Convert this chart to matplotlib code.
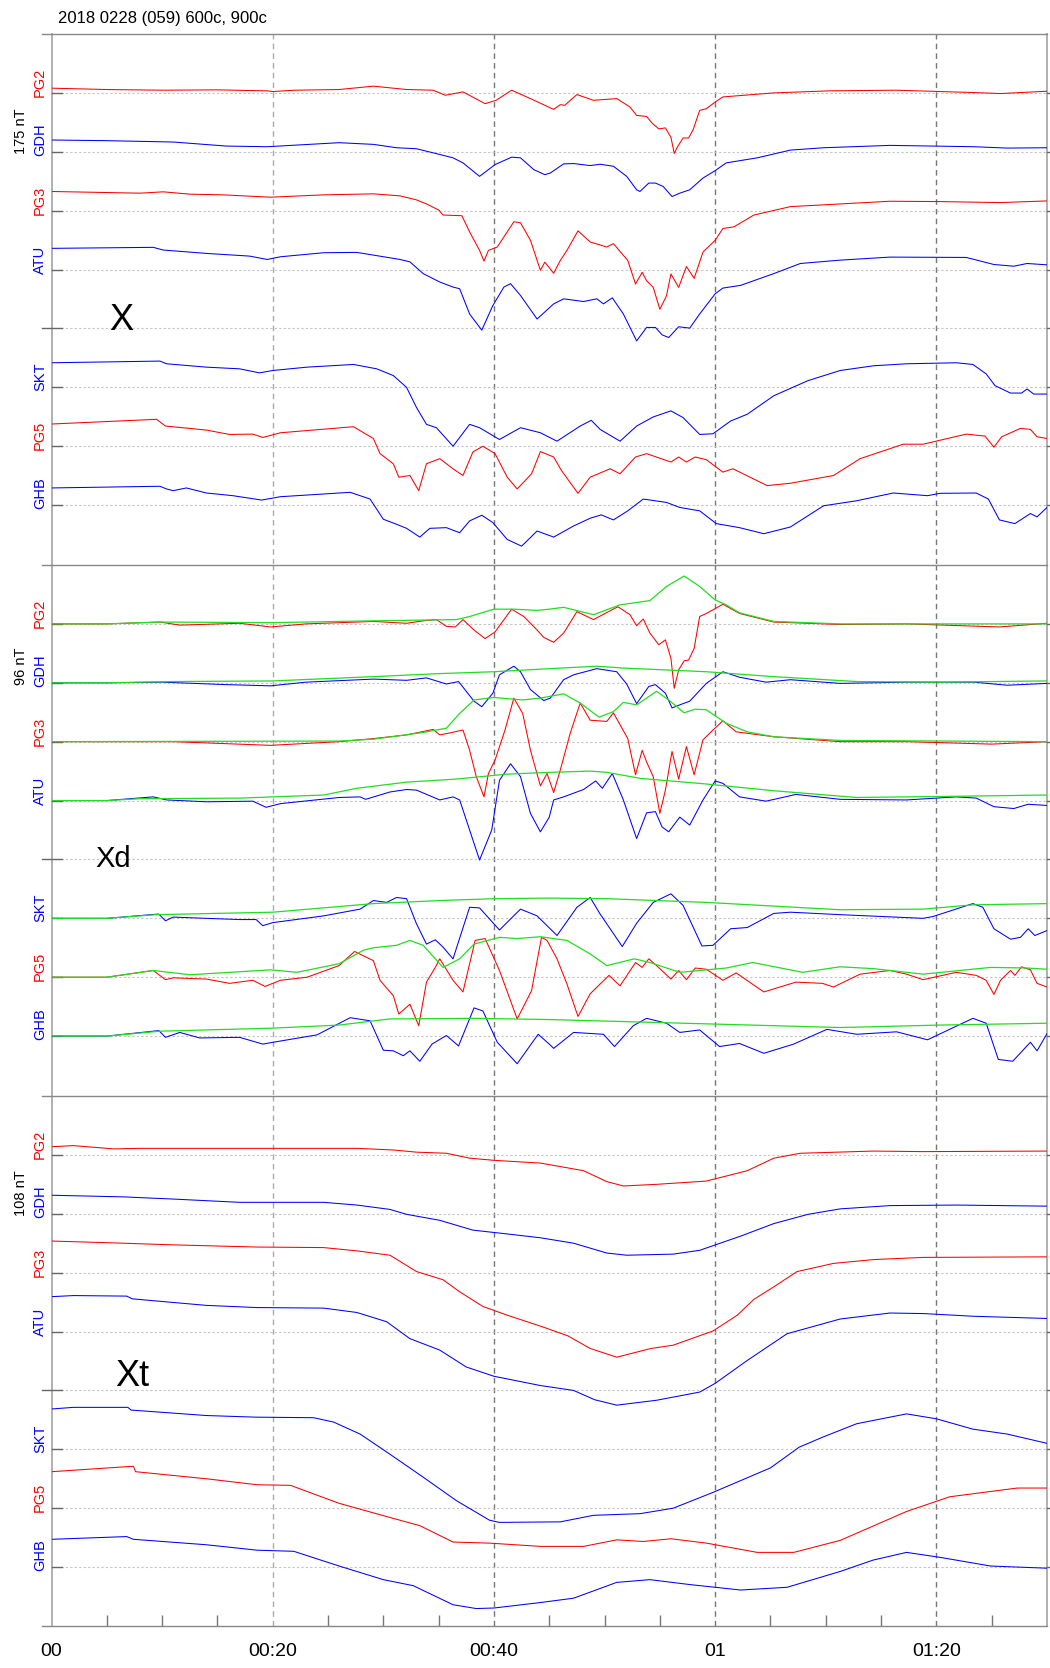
import matplotlib
matplotlib.use("Agg")
import matplotlib.pyplot as plt
from matplotlib.transforms import blended_transform_factory

plt.rcParams['font.family'] = ['Liberation Sans', 'DejaVu Sans']

W, H = 1050, 1668
TITLE = "2018 0228 (059) 600c, 900c"
ROWS = ["PG2", "GDH", "PG3", "ATU", None, "SKT", "PG5", "GHB"]
ROW_COLORS = {"PG2": "#ff0000", "PG3": "#ff0000", "PG5": "#ff0000",
              "GDH": "#0000ff", "ATU": "#0000ff", "SKT": "#0000ff", "GHB": "#0000ff"}
GREEN = "#22dd22"
PANEL_NAMES = ["X", "Xd", "Xt"]
PANEL_SCALES_NT = [175, 96, 108]
XTICK_MIN = [0, 20, 40, 60, 80]
XTICK_LABELS = ["00", "00:20", "00:40", "01", "01:20"]
T_END = 90

# ---- Panel X : (minutes after 00:00, nT relative to station baseline)
X_PG2 = [(0,14),(5,10),(10,8),(15,9),(19.5,6),(20,4),(22,8),(26,10),(29.1,20),(32.1,10),(34.5,8),(35.6,-7),(37.2,3),(39.2,-32),(40.2,-22),(41.6,8),(43.3,-17),(45.4,-49),(46,-35),(46.4,-37),(47.5,-5),(49,-22),(51.1,-17),(52.3,-42),(52.9,-67),(53.8,-70),(54.3,-90),(54.9,-107),(55.5,-104),(56,-132),(56.3,-180),(56.6,-160),(57.1,-134),(57.6,-134),(58,-110),(58.6,-52),(59.2,-47),(60,-27),(60.7,-12),(65.3,0),(70.3,6),(76.3,8),(83.4,1),(85.8,-2),(90,5)]
X_GDH = [(0,35),(5,33),(11,29),(15.8,17),(19.5,15),(26,27),(29.1,22),(31.2,12),(33,9),(35.1,-8),(36.3,-18),(37.2,-33),(38.7,-73),(40.1,-38),(41.6,-16),(42.4,-18),(43.6,-53),(44.6,-68),(45.1,-63),(46.3,-36),(47.2,-35),(48.7,-41),(49.6,-37),(50.8,-43),(52,-73),(52.9,-113),(53.2,-118),(54,-93),(54.6,-93),(55.3,-103),(56.1,-133),(56.8,-123),(57.7,-113),(58.9,-78),(60,-56),(61,-33),(63.8,-18),(66.8,5),(69.8,12),(75.8,19),(83.4,15),(86.4,11),(90,12)]
X_PG3 = [(0,57),(8,52),(10.1,56),(12.5,49),(15.5,47),(19.8,40),(24.6,47),(29.1,50),(31.5,44),(33,32),(33.9,20),(35,2),(35.4,-13),(37.1,-15),(37.8,-63),(38.7,-118),(39.1,-150),(39.5,-118),(40.3,-108),(40.9,-78),(41.8,-33),(42.4,-36),(43.3,-88),(44.2,-177),(44.6,-153),(45.4,-186),(46,-148),(46.6,-118),(47.6,-60),(48.7,-93),(50.2,-108),(50.8,-98),(52.1,-148),(52.8,-218),(53.4,-183),(53.8,-208),(54.4,-228),(55,-293),(55.6,-253),(56,-188),(56.7,-228),(57.4,-166),(58.1,-201),(58.9,-123),(60,-88),(60.7,-53),(61.7,-48),(63.5,-13),(66.8,12),(71.3,20),(75.8,28),(80.3,27),(85.8,24),(90,29)]
X_ATU = [(0,63),(9.2,66),(10.1,58),(14,48),(17.9,40),(19.5,30),(20.7,38),(24.6,50),(27.6,51),(29.1,43),(31.5,30),(32.4,23),(33.6,-12),(35.1,-37),(36.3,-52),(36.9,-57),(37.8,-132),(38.9,-180),(39.9,-107),(40.9,-52),(41.5,-42),(42.4,-77),(43.9,-147),(45.4,-102),(46.3,-87),(48.1,-95),(49.3,-87),(49.9,-102),(50.7,-84),(51.7,-132),(52.9,-212),(53.8,-172),(54.6,-172),(55.2,-194),(55.8,-202),(56.7,-170),(57.7,-174),(58.6,-132),(60,-72),(60.7,-55),(62.3,-47),(65.3,-12),(67.7,18),(71.3,28),(75.8,37),(82.7,36),(85.2,15),(87,10),(88.2,18),(90,14)]
X_SKT = [(0,73),(9.8,78),(10.4,70),(14,60),(17,55),(18.8,43),(20,50),(23.1,60),(27.3,68),(29.4,55),(30.9,35),(32.1,0),(33,-60),(33.9,-110),(34.8,-120),(36.3,-175),(37.8,-110),(38.7,-120),(40.5,-155),(42.4,-120),(44.2,-135),(45.7,-160),(47.8,-115),(48.8,-98),(49.6,-125),(51.4,-160),(52.9,-115),(54.4,-88),(56,-70),(57.1,-90),(58.6,-140),(59.8,-138),(61.4,-100),(62.9,-80),(65.3,-25),(68.4,20),(71.3,50),(74.3,64),(77.3,70),(81.8,73),(83.3,68),(84.5,40),(85.3,5),(86.7,-17),(87.7,-17),(88.2,-5),(88.8,-20),(90,-20)]
X_PG5 = [(0,66),(9.5,80),(10.3,60),(14,48),(16.1,35),(18.2,36),(19.1,26),(20.7,40),(27.3,58),(29.1,23),(29.7,-22),(30.9,-52),(31.4,-92),(32.4,-87),(33.2,-132),(33.9,-52),(34.7,-42),(35.1,-37),(36.3,-67),(37.2,-87),(38.1,-17),(39,0),(40.1,-22),(41.2,-92),(42.1,-127),(43.4,-82),(44.2,-16),(45.4,-32),(46.1,-72),(47.6,-140),(48.7,-92),(50.5,-67),(51.4,-82),(52.8,-32),(53.8,-22),(56,-47),(56.7,-32),(57.4,-47),(58.2,-32),(59.2,-40),(60.7,-77),(61.6,-67),(64.7,-117),(66.8,-110),(70.7,-87),(73.1,-37),(77,6),(78.8,6),(82.7,36),(84.4,30),(85.2,-3),(85.9,28),(87.6,53),(88.5,50),(89.1,28),(90,23)]
X_GHB = [(0,51),(9.8,56),(10.4,48),(11,43),(12.2,51),(14,36),(16.4,28),(19,15),(20.7,25),(27,38),(28.8,18),(30,-42),(31.2,-57),(32.1,-69),(33.3,-95),(34.2,-69),(35.7,-67),(36.9,-82),(37.8,-47),(38.9,-30),(39.9,-52),(41.2,-102),(42.5,-122),(43.9,-77),(45.4,-95),(47.2,-62),(48.7,-39),(49.7,-29),(50.8,-44),(52.1,-17),(53.5,18),(55.6,8),(56.8,-7),(58.6,-17),(60.1,-55),(62.2,-67),(64.4,-85),(66.8,-65),(69.8,-2),(72.8,13),(76.1,36),(79.2,28),(80.3,35),(83.6,36),(84.7,18),(85.7,-44),(87.1,-55),(88.5,-25),(89.1,-35),(90,-7)]

# ---- Panel Xd (detrended) and its green reference curves, nT
XD_PG2 = [(0,0),(5,0),(9.8,3),(11.6,-2),(17,1),(19.8,-5),(23,0),(29.1,4),(32.1,1),(33.6,5),(34.8,7),(35.7,-4),(36.5,-5),(37.2,7),(38.2,-10),(39.2,-24),(40.1,-13),(41.6,24),(42.7,12),(43.9,-10),(44.5,-22),(45.4,-30),(46.3,-15),(47.5,20),(49,7),(51.2,28),(52.3,15),(52.9,-3),(53.5,8),(54.1,-15),(54.9,-34),(55.5,-26),(56,-56),(56.3,-105),(56.7,-75),(57.2,-60),(57.6,-59),(58.1,-40),(58.6,12),(59.2,17),(60.7,32),(62.2,17),(65.3,3),(71.3,-1),(77.3,0),(85.7,-5),(90,1)]
XD_GDH = [(0,0),(5,0),(10,1),(15.8,-3),(19.8,-5),(23,1),(29.1,6),(32.1,4),(33.9,8),(35.7,-2),(36.8,2),(38.2,-30),(38.9,-39),(39.9,-17),(40.5,13),(41.8,27),(42.4,18),(43.3,-11),(44.5,-29),(45.1,-25),(46.3,5),(47.2,13),(49.3,23),(51.1,18),(52,-2),(52.9,-34),(54,-6),(54.6,-3),(55.5,-17),(56.1,-41),(56.8,-36),(57.7,-30),(59.2,-1),(60.7,18),(62.2,9),(64.6,1),(66.8,5),(71.3,-1),(77.3,1),(83.4,1),(86.4,-4),(90,-1)]
XD_PG3 = [(0,0),(5,0),(11,0),(19.8,-6),(26,0),(29.1,5),(32.1,11),(34.5,20),(35.1,11),(36.2,15),(37.2,19),(37.8,-14),(38.4,-57),(39.1,-90),(39.5,-52),(40.1,-30),(41,19),(41.8,71),(42.6,46),(43.3,-14),(44.2,-72),(44.8,-52),(45.4,-83),(46,-46),(46.9,14),(47.8,63),(48.7,35),(50.2,33),(50.8,47),(52.1,5),(52.8,-54),(53.4,-14),(53.8,-33),(54.4,-57),(55,-117),(55.5,-79),(56.1,-16),(56.7,-61),(57.4,-8),(58.1,-54),(58.9,3),(59.8,19),(60.7,34),(61.9,16),(65.3,8),(71.3,0),(77.3,0),(85,-4),(90,0)]
XD_ATU = [(0,0),(5,0),(9.2,6),(10.4,1),(14,-2),(18.2,-1),(19.4,-11),(20.7,-5),(26,5),(27.9,6),(28.4,2),(30.6,14),(32.1,18),(33,17),(35.1,1),(36.3,6),(36.9,1),(37.8,-48),(38.7,-97),(39.8,-48),(40.5,33),(41.5,60),(42.4,39),(43.3,-21),(44.2,-51),(45,-27),(45.4,1),(46.3,6),(48.1,18),(49.2,32),(49.8,20),(50.7,44),(51.7,1),(52.9,-62),(53.8,-20),(54.6,-18),(55.2,-43),(55.8,-51),(56.8,-27),(57.7,-40),(58.9,1),(60,32),(60.7,28),(62.2,6),(64.6,-1),(67.3,10),(71.3,2),(77.3,1),(81.8,6),(83.6,4),(85.2,-10),(87,-13),(88.3,-6),(90,-8)]
XD_SKT = [(0,0),(5,0),(9.7,7),(10.3,-4),(11,2),(17,-2),(18.5,-2),(19.1,-12),(20,-7),(24.6,4),(27.9,15),(29.1,29),(30.3,26),(31.2,34),(32.1,32),(33,-9),(33.9,-42),(34.7,-35),(35.4,-47),(36.3,-66),(37.8,18),(38.7,17),(40.5,-19),(42.4,15),(43.9,4),(45.7,-28),(47.5,18),(48.7,34),(49.6,7),(51.6,-46),(52.9,-8),(54.4,26),(56,40),(57.1,21),(58.8,-45),(59.8,-44),(61.4,-17),(62.9,-15),(65.3,8),(66.8,10),(71.3,6),(78.8,0),(79.7,3),(83.3,24),(84.2,18),(85.2,-17),(86.7,-34),(87.6,-31),(88.3,-17),(88.9,-28),(90,-20)]
XD_PG5 = [(0,0),(5,0),(9.2,11),(10.3,-4),(11,-1),(14,-3),(16.1,-10),(18.2,-5),(19.3,-15),(20.7,-5),(23.1,0),(26,19),(27.4,42),(29.1,27),(29.7,-5),(30.9,-30),(31.4,-60),(32.4,-44),(33.2,-79),(33.9,-8),(34.7,16),(35.1,30),(36.3,-5),(37.2,-24),(38.3,60),(39.2,63),(40.5,11),(42.1,-68),(43.4,-22),(44.3,65),(44.8,60),(45.7,30),(46.6,-11),(47.6,-64),(48.7,-27),(50.4,3),(51.4,-14),(52.8,24),(53.4,16),(54,30),(54.7,19),(56,-3),(56.7,11),(57.4,-4),(58.2,15),(59.2,13),(60.7,-5),(61.9,7),(64.4,-24),(67.3,-8),(69.7,-10),(70.7,-16),(73.1,5),(75.8,11),(77.3,5),(78.8,-4),(81.8,8),(83.6,3),(84.5,-5),(85.2,-28),(85.8,-5),(86.7,11),(87.1,3),(87.7,17),(88.5,12),(89.1,-10),(90,-16)]
XD_GHB = [(0,0),(5,0),(9.7,9),(10.3,-2),(11.6,6),(13.4,-3),(17,-2),(19.1,-13),(20.7,-8),(24,2),(27,30),(28.8,25),(30,-23),(30.9,-24),(31.8,-32),(32.4,-24),(33.3,-41),(34.4,-13),(35.7,1),(36.8,-16),(38.2,46),(39,41),(40.3,-10),(42.1,-45),(44,3),(45,-13),(45.4,-20),(47.2,6),(49.9,3),(50.9,-17),(52.6,17),(53.8,29),(55.6,21),(56.8,6),(58.6,10),(60.4,-17),(62.2,-12),(64.4,-28),(67.1,-13),(70.1,11),(72.8,3),(76.4,7),(79.2,-6),(83.3,29),(84.5,21),(85.6,-38),(86.9,-41),(88.5,-10),(89.1,-24),(90,4)]

XD_PG2_G = [(0,0),(5,0),(9.8,3),(20,2),(29.1,5),(36.6,7),(37.8,12),(40,24),(41.8,24),(43.9,22),(45,24),(46.3,27),(49,15),(51.4,31),(54.1,38),(55.6,61),(57.2,78),(58.6,61),(60,39),(61,31),(62.2,18),(65.3,4),(71.3,0),(90,0)]
XD_GDH_G = [(0,0),(5,0),(11,2),(20,3),(29.1,10),(35.1,15),(40,18),(45,23),(49.3,27),(51.7,24),(59.2,18),(65.3,10),(72.8,2),(80.3,1),(90,3)]
XD_PG3_G = [(0,0),(26,1),(29.1,4),(33.6,15),(35.7,22),(36.9,46),(38.2,68),(40,72),(42.6,68),(44.2,71),(46.3,78),(47.8,63),(49.5,40),(50.8,49),(51.7,64),(52.9,60),(54.7,82),(55.8,68),(57.2,47),(58.2,53),(59.2,52),(61,30),(62.9,16),(65.3,8),(71.3,2),(90,0)]
XD_ATU_G = [(0,0),(5,0),(8,3),(17,4),(24.6,9),(27.6,20),(32.1,30),(36.6,35),(41.1,43),(45,46),(48.7,48),(50.2,46),(53.3,36),(59.2,27),(65.3,16),(72.8,5),(81.8,7),(90,9)]
XD_SKT_G = [(0,0),(5,0),(9.5,6),(20,10),(29.1,24),(35.1,29),(40,32),(45,33),(50.2,32),(59.2,26),(71.3,14),(78.8,15),(83.3,22),(90,24)]
XD_PG5_G = [(0,0),(5,0),(9.2,11),(12.5,4),(19.8,12),(22.2,8),(26,22),(28.2,44),(29.1,48),(31.2,52),(32.4,60),(33.6,52),(35.4,16),(36.9,30),(38.2,54),(40.5,65),(42.1,63),(44.2,66),(46.6,60),(48.7,38),(50.2,19),(52.7,30),(54.1,24),(56.8,8),(61,15),(63.4,24),(67.9,8),(71.3,17),(74.3,14),(78.8,5),(84.9,16),(88.2,15),(90,13)]
XD_GHB_G = [(0,0),(5,0),(9.8,8),(20,13),(26,18),(30.6,28),(38.2,29),(45,27),(59.2,20),(71.3,14),(80.3,18),(90,21)]

# ---- Panel Xt (trend), nT
XT_PG2 = [(0,15),(2,17),(5.6,11),(8,12),(27.6,12),(30.9,9),(33,5),(35.7,3),(37.8,-6),(40,-10),(44.2,-15),(48.1,-29),(50.2,-49),(51.7,-57),(54.7,-54),(59.2,-48),(62.9,-29),(65.3,-6),(67.7,3),(74.3,7),(78.8,6),(90,7)]
XT_GDH = [(0,34),(6.5,31),(11,27),(17,21),(24.6,21),(27.6,16),(30.6,8),(32.1,-1),(35.1,-12),(38.1,-30),(41.2,-37),(44.2,-44),(47.2,-54),(50.2,-72),(52,-76),(56.2,-74),(58.6,-67),(62.3,-41),(65.3,-18),(68.4,-1),(71.3,9),(75.8,15),(81.8,16),(90,14)]
XT_PG3 = [(0,58),(5,55),(11,51),(18.6,47),(24.6,46),(27.6,40),(30.6,32),(33,2),(35.4,-13),(36.9,-35),(39,-62),(41.2,-78),(44.2,-98),(46.7,-116),(48.7,-139),(51.1,-155),(54.2,-139),(56.2,-133),(59.8,-107),(62,-78),(63.5,-49),(65.3,-26),(67.4,2),(70.7,17),(74.3,24),(78.8,28),(90,29)]
XT_ATU = [(0,64),(2,66),(6.8,65),(7.3,60),(14,48),(18.6,44),(24.6,43),(27.6,35),(30.3,18),(32.4,-13),(35.1,-34),(37.5,-65),(40,-82),(44.2,-99),(47.2,-108),(49.1,-125),(51.1,-135),(54.7,-126),(58.6,-111),(60,-95),(62.9,-53),(66.5,-4),(71.3,23),(75.8,34),(78.8,33),(83.4,28),(90,24)]
XT_SKT = [(0,74),(2,77),(6.9,77),(7.2,72),(14,62),(18.5,59),(23.7,58),(25.5,50),(27.9,28),(30.6,-9),(33.6,-51),(36.6,-94),(39.6,-130),(40.5,-134),(46,-133),(49,-121),(53.2,-118),(56.2,-108),(59.8,-79),(65,-34),(67.6,4),(69.8,23),(72.8,47),(77.3,65),(80,56),(83.3,37),(86.4,28),(90,11)]
XT_PG5 = [(0,67),(7.4,77),(7.6,67),(14,54),(18.6,43),(21.6,42),(26,9),(30.6,-17),(33.3,-32),(36.3,-62),(39.6,-64),(44.2,-70),(48.1,-70),(51.1,-58),(53.5,-61),(56,-56),(59.2,-64),(63.8,-81),(67.1,-81),(71.3,-59),(77.3,-6),(81.2,21),(87.3,37),(90,37)]
XT_GHB = [(0,51),(6.8,56),(7.4,51),(14,41),(18.6,31),(21.9,29),(26,2),(30,-23),(32.7,-34),(36.3,-69),(38.4,-76),(40,-75),(44.2,-65),(47.2,-57),(51.1,-28),(54.1,-23),(57.7,-32),(62.3,-42),(66.5,-37),(71.3,-8),(74.3,13),(77.3,27),(80.3,18),(84.9,2),(90,-2)]

PANEL_DATA = [
    {"PG2": X_PG2, "GDH": X_GDH, "PG3": X_PG3, "ATU": X_ATU, "SKT": X_SKT, "PG5": X_PG5, "GHB": X_GHB},
    {"PG2": XD_PG2, "GDH": XD_GDH, "PG3": XD_PG3, "ATU": XD_ATU, "SKT": XD_SKT, "PG5": XD_PG5, "GHB": XD_GHB},
    {"PG2": XT_PG2, "GDH": XT_GDH, "PG3": XT_PG3, "ATU": XT_ATU, "SKT": XT_SKT, "PG5": XT_PG5, "GHB": XT_GHB},
]
PANEL_GREEN = [
    {},
    {"PG2": XD_PG2_G, "GDH": XD_GDH_G, "PG3": XD_PG3_G, "ATU": XD_ATU_G, "SKT": XD_SKT_G, "PG5": XD_PG5_G, "GHB": XD_GHB_G},
    {},
]

# ---------------- layout (pixels)
AX_LEFT, AX_RIGHT = 51.5, 1047.0
PANEL_TOPS = [34, 565, 1096]
PANEL_H = 530
AXW = AX_RIGHT - AX_LEFT
NSLOT = 9

fig = plt.figure(figsize=(W / 100, H / 100), dpi=100)
fig.text(58 / W, 1 - 19 / H, TITLE, ha='left', va='center', fontsize=12, color='black')

label_pos = [(121, 330, 'center', 26), (95, 867, 'left', 21), (115, 1386, 'left', 26)]

axes = []
for p in range(3):
    top = PANEL_TOPS[p]
    ax = fig.add_axes([AX_LEFT / W, 1 - (top + PANEL_H) / H, AXW / W, PANEL_H / H])
    axes.append(ax)
    S = PANEL_SCALES_NT[p]
    ax.set_xlim(0, T_END)
    ax.set_ylim(0, NSLOT * S)
    for side in ['top', 'bottom']:
        ax.spines[side].set_visible(False)
    for side in ['left', 'right']:
        ax.spines[side].set_color('#b0b0b0')
        ax.spines[side].set_linewidth(1.4)
    ax.set_yticks([])
    ax.tick_params(axis='x', length=0, labelbottom=False)
    bt = blended_transform_factory(ax.transAxes, ax.transData)
    slot_px = PANEL_H / NSLOT

    # vertical dashed time lines
    for tm in XTICK_MIN[1:]:
        col = '#aaaaaa' if tm == 20 else '#777777'
        ax.axvline(tm, color=col, lw=1.0, ls=(0, (4, 3)), zorder=1)

    for k in range(1, NSLOT):
        yb = (NSLOT - k) * S
        ax.axhline(yb, color='#c4c4c4', lw=0.8, ls=(0, (2, 2)), zorder=1)
        x0 = -10 / AXW if ROWS[k - 1] is None else 0
        ax.plot([x0, 10 / AXW], [yb, yb], color='#666666', lw=1.0, transform=bt, clip_on=False, zorder=3)
        ax.plot([1, 1 + 4 / AXW], [yb, yb], color='#666666', lw=1.0, transform=bt, clip_on=False, zorder=3)
        name = ROWS[k - 1]
        if name is None:
            continue
        pts = PANEL_DATA[p][name]
        ax.plot([a for a, b in pts], [yb + b for a, b in pts], color=ROW_COLORS[name], lw=0.75, zorder=4)
        if name in PANEL_GREEN[p]:
            g = PANEL_GREEN[p][name]
            ax.plot([a for a, b in g], [yb + b for a, b in g], color=GREEN, lw=0.9, zorder=5)
        ypix = top + k * slot_px
        fig.text(40 / W, 1 - (ypix + 4) / H, name, rotation=90, ha='center', va='bottom',
                 fontsize=10.5, color=ROW_COLORS[name])

    # top line of panel, extending left
    ax.plot([-10 / AXW, 1], [1, 1], color='#888888', lw=1.0, transform=ax.transAxes, clip_on=False, zorder=3)
    # scale label
    gdh_pix = top + 2 * slot_px
    fig.text(21 / W, 1 - (gdh_pix + 2) / H, f"{S} nT", rotation=90, ha='center', va='bottom',
             fontsize=10.5, color='black')
    lx, ly, ha, fs = label_pos[p]
    fig.text(lx / W, 1 - ly / H, PANEL_NAMES[p], ha=ha, va='baseline', fontsize=fs, color='black')

axb = axes[-1]
axb.plot([-10 / AXW, 1], [0, 0], color='#888888', lw=1.0, transform=axb.transAxes, clip_on=False, zorder=3)
axb.set_xticks(XTICK_MIN)
axb.set_xticklabels(XTICK_LABELS)
axb.tick_params(axis='x', length=0, pad=12, labelsize=14, labelbottom=True)
axb.set_xticks([m for m in range(5, T_END, 5) if m % 20 != 0], minor=True)
axb.tick_params(axis='x', which='minor', direction='in', length=8, width=1, color='#777777')

fig.savefig('out.png', dpi=100)
